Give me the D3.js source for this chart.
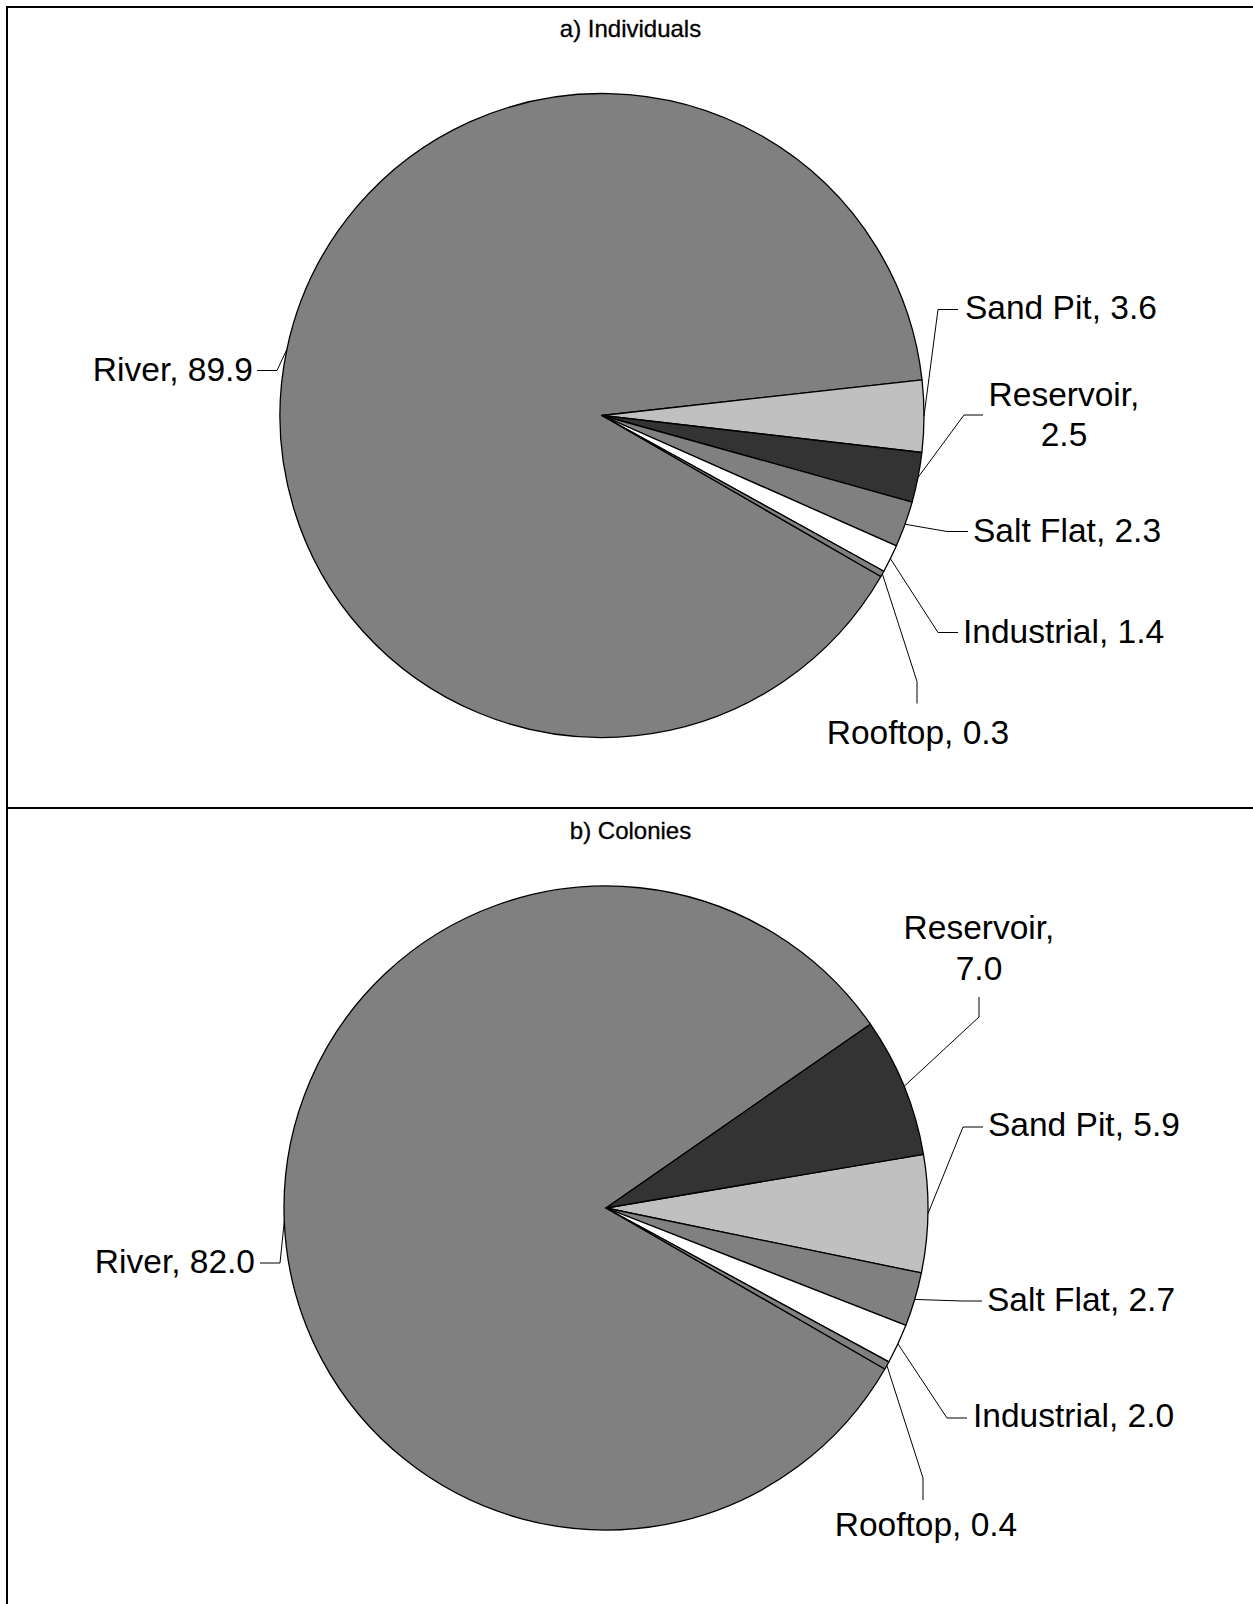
<!DOCTYPE html>
<html>
<head>
<meta charset="utf-8">
<script src="https://cdn.jsdelivr.net/npm/d3@7"></script>
<style>
  html, body { margin: 0; padding: 0; background: #fff; }
  text { font-family: "Liberation Sans", Arial, sans-serif; fill: #000; }
</style>
</head>
<body>
<svg id="chart"></svg>
<script>
// categories and values (percent)
const categories = ["River", "Sand Pit", "Reservoir", "Salt Flat", "Industrial", "Rooftop"];
const individuals = [89.9, 3.6, 2.5, 2.3, 1.4, 0.3];
const colonies = [82.0, 5.9, 7.0, 2.7, 2.0, 0.4];
const panelTitles = ["a) Individuals", "b) Colonies"];

const fills = {
  "River": "#808080",
  "Sand Pit": "#c0c0c0",
  "Reservoir": "#333333",
  "Salt Flat": "#808080",
  "Industrial": "#ffffff",
  "Rooftop": "#808080"
};

const W = 1253, H = 1604;
const radius = 322;
const labelSize = 33.5;

// label placement, relative to the pie centre (label x/y = text anchor & baseline,
// bend/end = leader line elbow and end next to the text)
const layouts = [
  {
    top: 7, cx: 602, cy: 415.5, titleY: 37,
    labels: {
      "River":      { x: -349, y: -35, anchor: "end",    bend: [-325, -45], end: [-345, -45] },
      "Sand Pit":   { x: 363,  y: -97, anchor: "start",  bend: [336, -106], end: [356, -106] },
      "Reservoir":  { x: 462,  y: -10, anchor: "middle", bend: [362, -0.5], end: [381, -0.5], wrap: true },
      "Salt Flat":  { x: 371,  y: 126, anchor: "start",  bend: [345, 116],  end: [366, 116] },
      "Industrial": { x: 361,  y: 227, anchor: "start",  bend: [336, 217],  end: [356, 217] },
      "Rooftop":    { x: 316,  y: 328, anchor: "middle", bend: [315, 266],  end: [315, 288] }
    }
  },
  {
    top: 808, cx: 606, cy: 1208, titleY: 839,
    labels: {
      "River":      { x: -351, y: 65,  anchor: "end",    bend: [-326, 55],  end: [-346, 55] },
      "Reservoir":  { x: 373,  y: -269, anchor: "middle", bend: [373, -191], end: [373, -211], wrap: true },
      "Sand Pit":   { x: 382,  y: -72, anchor: "start",  bend: [357, -81],  end: [377, -81] },
      "Salt Flat":  { x: 381,  y: 103, anchor: "start",  bend: [356, 93],   end: [376, 93] },
      "Industrial": { x: 367,  y: 219, anchor: "start",  bend: [341, 210],  end: [361, 210] },
      "Rooftop":    { x: 320,  y: 328, anchor: "middle", bend: [317, 270],  end: [317, 292] }
    }
  }
];

const svg = d3.select("#chart")
  .attr("width", W)
  .attr("height", H);

// frame of the two panels (right and bottom edges fall outside the picture)
svg.append("rect")
  .attr("x", 7).attr("y", 7)
  .attr("width", W + 20).attr("height", H + 20)
  .attr("fill", "none")
  .attr("stroke", "#000")
  .attr("stroke-width", 2);

svg.append("line")
  .attr("x1", 7).attr("x2", W)
  .attr("y1", layouts[1].top).attr("y2", layouts[1].top)
  .attr("stroke", "#000")
  .attr("stroke-width", 2);

const pie = d3.pie()
  .value(d => d.value)
  .sort((a, b) => b.value - a.value)
  .startAngle(2 * Math.PI / 3)
  .endAngle(2 * Math.PI / 3 + 2 * Math.PI);

const arc = d3.arc().innerRadius(0).outerRadius(radius);

[individuals, colonies].forEach((values, i) => {
  const lay = layouts[i];
  const data = categories.map((c, j) => ({ cat: c, value: values[j] }));

  svg.append("text")
    .attr("x", 630.5)
    .attr("y", lay.titleY)
    .attr("text-anchor", "middle")
    .style("font-size", "24px")
    .style("stroke", "#000")
    .style("stroke-width", 0.3)
    .text(panelTitles[i]);

  const g = svg.append("g")
    .attr("transform", `translate(${lay.cx}, ${lay.cy})`);

  const arcs = pie(data);

  g.selectAll("path.slice")
    .data(arcs)
    .enter()
    .append("path")
    .attr("class", "slice")
    .attr("d", arc)
    .attr("fill", d => fills[d.data.cat])
    .attr("stroke", "#000")
    .attr("stroke-width", 1.3)
    .attr("stroke-linejoin", "round");

  // leader lines from slice edge (mid angle) to labels
  g.selectAll("path.leader")
    .data(arcs)
    .enter()
    .append("path")
    .attr("class", "leader")
    .attr("fill", "none")
    .attr("stroke", "#000")
    .attr("stroke-width", 1)
    .attr("d", d => {
      const a = (d.startAngle + d.endAngle) / 2;
      const p = [radius * Math.sin(a), -radius * Math.cos(a)];
      const l = lay.labels[d.data.cat];
      return d3.line()([p, l.bend, l.end]);
    });

  const lbl = g.selectAll("text.lbl")
    .data(arcs)
    .enter()
    .append("text")
    .attr("class", "lbl")
    .attr("x", d => lay.labels[d.data.cat].x)
    .attr("y", d => lay.labels[d.data.cat].y)
    .attr("text-anchor", d => lay.labels[d.data.cat].anchor)
    .style("font-size", labelSize + "px");

  lbl.each(function (d) {
    const l = lay.labels[d.data.cat];
    const t = d3.select(this);
    const v = d.data.value.toFixed(1);
    if (l.wrap) {
      t.append("tspan").attr("x", l.x).text(d.data.cat + ",");
      t.append("tspan").attr("x", l.x).attr("dy", 40.7).text(v);
    } else {
      t.text(d.data.cat + ", " + v);
    }
  });
});
</script>
</body>
</html>
